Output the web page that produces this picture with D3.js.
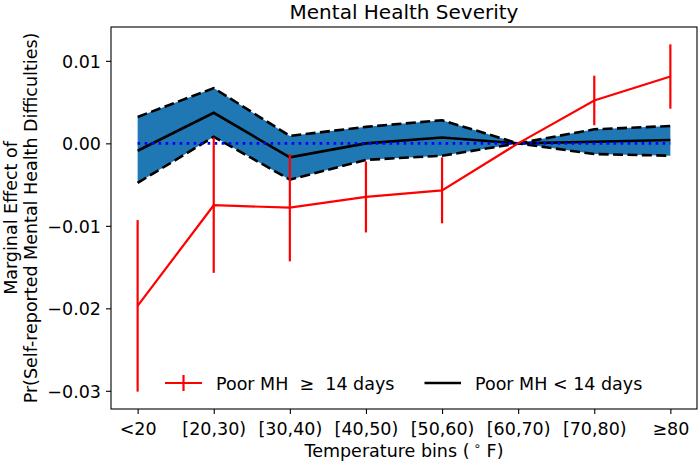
<!DOCTYPE html>
<html>
<head>
<meta charset="utf-8">
<script src="https://cdn.jsdelivr.net/npm/d3@7"></script>
<style>
  html, body { margin: 0; padding: 0; background: #fff; }
  svg { display: block; font-family: "DejaVu Sans", sans-serif; }
</style>
</head>
<body>
<svg id="chart" width="700" height="464"></svg>
<script>
// ---- data ----
const categories = ["<20", "[20,30)", "[30,40)", "[40,50)", "[50,60)", "[60,70)", "[70,80)", "≥80"];
// Poor MH >= 14 days (point estimate and half-width of error bar)
const highMH = [-0.0197, -0.0075, -0.0078, -0.0065, -0.0057, 0.0, 0.0052, 0.0081];
const highMHErr = [0.0104, 0.0082, 0.0065, 0.0043, 0.0040, 0.0, 0.0030, 0.0039];
// Poor MH < 14 days (mean and confidence band)
const lowMH = [-0.0009, 0.0037, -0.0017, 0.0000, 0.0007, 0.0, 0.0002, 0.0004];
const lowMHLower = [-0.0048, 0.0008, -0.0044, -0.0020, -0.0015, 0.0, -0.0013, -0.0015];
const lowMHUpper = [0.0032, 0.0067, 0.0009, 0.0020, 0.0028, 0.0, 0.0017, 0.0021];
const yTicks = [-0.03, -0.02, -0.01, 0.00, 0.01];

// ---- layout ----
const W = 700, H = 464;
const M = { left: 111, right: 3, top: 27, bottom: 55 };
const svg = d3.select("#chart");

const x = d3.scalePoint().domain(categories)
  .range([M.left, W - M.right]).padding(0.35);

const dataMin = d3.min([...highMH.map((v, i) => v - highMHErr[i]), ...lowMHLower]);
const dataMax = d3.max([...highMH.map((v, i) => v + highMHErr[i]), ...lowMHUpper]);
const pad = (dataMax - dataMin) * 0.05;
const y = d3.scaleLinear().domain([dataMin - pad, dataMax + pad])
  .range([H - M.bottom, M.top]);

const fmt = v => { const s = d3.format(".2f")(Math.abs(v)); return v < -1e-9 ? "\u2212" + s : s; };

const FS = 17.5;

// clip
svg.append("defs").append("clipPath").attr("id", "clip")
  .append("rect").attr("x", M.left).attr("y", M.top)
  .attr("width", W - M.left - M.right).attr("height", H - M.top - M.bottom);

const plot = svg.append("g").attr("clip-path", "url(#clip)");

const idx = d3.range(categories.length);

// confidence band
plot.append("path")
  .attr("d", d3.area().x(i => x(categories[i])).y0(i => y(lowMHLower[i])).y1(i => y(lowMHUpper[i]))(idx))
  .attr("fill", "#1f77b4");

const line = arr => d3.line().x(i => x(categories[i])).y(i => y(arr[i]))(idx);

plot.append("path").attr("d", line(lowMHUpper))
  .attr("fill", "none").attr("stroke", "#000").attr("stroke-width", 2.6)
  .attr("stroke-dasharray", "10,4.4");
plot.append("path").attr("d", line(lowMHLower))
  .attr("fill", "none").attr("stroke", "#000").attr("stroke-width", 2.6)
  .attr("stroke-dasharray", "10,4.4");
plot.append("path").attr("d", line(lowMH))
  .attr("fill", "none").attr("stroke", "#000").attr("stroke-width", 2.6);

// zero reference
plot.append("line")
  .attr("x1", x(categories[0])).attr("x2", x(categories[categories.length - 1]))
  .attr("y1", y(0)).attr("y2", y(0))
  .attr("stroke", "#0000ff").attr("stroke-width", 2.6)
  .attr("stroke-dasharray", "2.6,4.4");

// red series
plot.append("path").attr("d", line(highMH))
  .attr("fill", "none").attr("stroke", "#ff0000").attr("stroke-width", 2.2);
plot.selectAll(".err").data(idx.filter(i => highMHErr[i] > 0)).enter().append("line")
  .attr("x1", i => x(categories[i])).attr("x2", i => x(categories[i]))
  .attr("y1", i => y(highMH[i] - highMHErr[i])).attr("y2", i => y(highMH[i] + highMHErr[i]))
  .attr("stroke", "#ff0000").attr("stroke-width", 2.2);

// axes
const xAxis = svg.append("g").attr("transform", `translate(0,${H - M.bottom})`)
  .call(d3.axisBottom(x).tickSize(5).tickPadding(6));
const yAxis = svg.append("g").attr("transform", `translate(${M.left},0)`)
  .call(d3.axisLeft(y).tickValues(yTicks).tickFormat(fmt).tickSize(5).tickPadding(5));
[xAxis, yAxis].forEach(g => {
  g.select(".domain").remove();
  g.selectAll("line").attr("stroke", "#000").attr("stroke-width", 1.1);
  g.selectAll("text").attr("font-family", "DejaVu Sans").attr("font-size", FS).attr("fill", "#000");
});
xAxis.selectAll("text").attr("dy", "0.85em");
yAxis.selectAll("text").attr("dy", "0.36em");

// frame
svg.append("rect").attr("x", M.left).attr("y", M.top)
  .attr("width", W - M.left - M.right).attr("height", H - M.top - M.bottom)
  .attr("fill", "none").attr("stroke", "#000").attr("stroke-width", 1.1);

// title
svg.append("text").attr("x", (M.left + W - M.right) / 2).attr("y", 19)
  .attr("text-anchor", "middle").attr("font-size", 20).text("Mental Health Severity");

// x label
const xl = svg.append("text").attr("x", (M.left + W - M.right) / 2).attr("y", 457)
  .attr("text-anchor", "middle").attr("font-size", FS);
xl.append("tspan").text("Temperature bins (");
xl.append("tspan").attr("font-size", FS * 0.7).attr("dy", -7).text(" \u2218");
xl.append("tspan").attr("dy", 7).text(" F)");

// y label
const cy = (M.top + H - M.bottom) / 2;
svg.append("text").attr("transform", `translate(17,${cy}) rotate(-90)`)
  .attr("text-anchor", "middle").attr("font-size", FS).text("Marginal Effect of");
svg.append("text").attr("transform", `translate(37,${cy}) rotate(-90)`)
  .attr("text-anchor", "middle").attr("font-size", FS).text("Pr(Self-reported Mental Health Difficulties)");

// legend
const lg = svg.append("g");
const ly = 383;
lg.append("line").attr("x1", 165).attr("x2", 202).attr("y1", ly).attr("y2", ly)
  .attr("stroke", "#ff0000").attr("stroke-width", 2.2);
lg.append("line").attr("x1", 183.5).attr("x2", 183.5).attr("y1", ly - 8).attr("y2", ly + 8)
  .attr("stroke", "#ff0000").attr("stroke-width", 2.2);
lg.append("text").attr("x", 216).attr("y", ly + 6.5).attr("font-size", FS)
  .attr("xml:space", "preserve").text("Poor MH  \u2265  14 days");
lg.append("line").attr("x1", 424.5).attr("x2", 461).attr("y1", ly).attr("y2", ly)
  .attr("stroke", "#000").attr("stroke-width", 2.6);
lg.append("text").attr("x", 475).attr("y", ly + 6.5).attr("font-size", FS)
  .text("Poor MH < 14 days");
</script>
</body>
</html>
